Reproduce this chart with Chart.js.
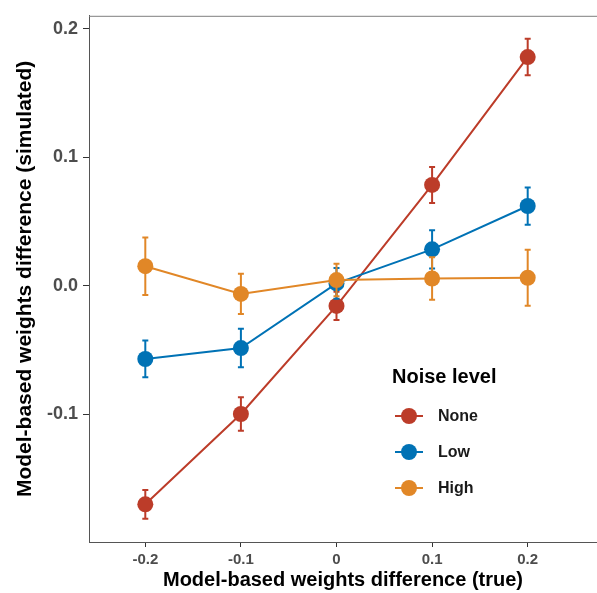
<!DOCTYPE html>
<html>
<head>
<meta charset="utf-8">
<script src="https://cdn.jsdelivr.net/npm/chart.js@4/dist/chart.umd.min.js"></script>
<style>
  html, body { margin: 0; padding: 0; background: #fff; overflow: hidden; }
  #wrap { width: 597px; height: 593px; position: relative; }
  canvas { display: block; }
</style>
</head>
<body>
<div id="wrap"><canvas id="noiseChart"></canvas></div>
<script>
// Data
const xTrue = [-0.2, -0.1, 0, 0.1, 0.2];
const seriesNames = ['None', 'Low', 'High'];
const noneMean = [-0.170, -0.0997, -0.0156, 0.0785, 0.178];
const noneErr  = [0.0112, 0.013, 0.011, 0.014, 0.0142];
const lowMean  = [-0.0569, -0.0484, 0.0019, 0.0284, 0.0621];
const lowErr   = [0.0143, 0.015, 0.012, 0.0149, 0.0145];
const highMean = [0.0153, -0.0063, 0.0045, 0.0057, 0.0063];
const highErr  = [0.0224, 0.0157, 0.0126, 0.0165, 0.0217];
const xTicks = [-0.2, -0.1, 0, 0.1, 0.2];
const yTicks = [-0.1, 0, 0.1, 0.2];

const colors = ['#BC3C29', '#0072B5', '#E18727'];
const FONT = "'Liberation Sans', Arial, sans-serif";

function toPoints(means) {
    return xTrue.map((x, i) => ({ x: x, y: means[i] }));
}

function makeSet(label, means, errs, color, order) {
    return {
        label: label,
        data: toPoints(means),
        errors: errs,
        borderColor: color,
        backgroundColor: color,
        borderWidth: 2,
        pointRadius: 8,
        pointHoverRadius: 8,
        pointBorderWidth: 0,
        tension: 0,
        order: order
    };
}

// Error bars drawn just before each dataset, so layering follows dataset order
const errorBars = {
    id: 'errorBars',
    beforeDatasetDraw(chart, args) {
        const ds = chart.data.datasets[args.index];
        const xs = chart.scales.x, ys = chart.scales.y;
        const c = chart.ctx;
        c.save();
        c.strokeStyle = ds.borderColor;
        c.lineWidth = 2;
        ds.data.forEach((p, i) => {
            const px = xs.getPixelForValue(p.x);
            const top = ys.getPixelForValue(p.y + ds.errors[i]);
            const bot = ys.getPixelForValue(p.y - ds.errors[i]);
            c.beginPath();
            c.moveTo(px, top); c.lineTo(px, bot);
            c.moveTo(px - 3, top); c.lineTo(px + 3, top);
            c.moveTo(px - 3, bot); c.lineTo(px + 3, bot);
            c.stroke();
        });
        c.restore();
    }
};

// Panel border (top) and custom legend
const panelAndLegend = {
    id: 'panelAndLegend',
    afterDraw(chart) {
        const a = chart.chartArea;
        const c = chart.ctx;
        c.save();
        c.strokeStyle = '#7f7f7f';
        c.lineWidth = 1;
        c.beginPath();
        c.moveTo(a.left, a.top + 0.5);
        c.lineTo(a.right, a.top + 0.5);
        c.stroke();

        // legend
        c.fillStyle = '#000';
        c.textBaseline = 'middle';
        c.font = 'bold 20px ' + FONT;
        c.fillText('Noise level', 392, 377);
        const rows = [416, 452, 488];
        c.font = 'bold 16px ' + FONT;
        seriesNames.forEach((name, i) => {
            const y = rows[i];
            c.strokeStyle = colors[i];
            c.lineWidth = 2;
            c.beginPath();
            c.moveTo(395, y); c.lineTo(423, y);
            c.stroke();
            c.fillStyle = colors[i];
            c.beginPath();
            c.arc(409, y, 8, 0, Math.PI * 2);
            c.fill();
            c.fillStyle = '#1a1a1a';
            c.fillText(name, 438, y + 1);
        });
        c.restore();
    }
};

const ctx = document.getElementById('noiseChart').getContext('2d');

new Chart(ctx, {
    type: 'line',
    data: {
        datasets: [
            makeSet('None', noneMean, noneErr, colors[0], 3),
            makeSet('Low', lowMean, lowErr, colors[1], 2),
            makeSet('High', highMean, highErr, colors[2], 1)
        ]
    },
    options: {
        responsive: true,
        maintainAspectRatio: false,
        animation: false,
        layout: { autoPadding: false, padding: { top: 12, right: 0, left: 0, bottom: 0 } },
        plugins: {
            legend: { display: false },
            tooltip: { enabled: false }
        },
        scales: {
            x: {
                type: 'linear',
                min: -0.2589,
                max: 0.2725,
                afterBuildTicks(scale) { scale.ticks = xTicks.map(v => ({ value: v })); },
                afterFit(scale) { scale.height = 51; },
                grid: { drawOnChartArea: false, drawTicks: true, tickLength: 5, color: '#333', lineWidth: 1 },
                border: { display: true, color: '#555', width: 1 },
                ticks: {
                    color: '#4d4d4d',
                    font: { family: FONT, size: 15, weight: 'bold' },
                    padding: 4,
                    maxRotation: 0,
                    callback: v => (v === 0 ? '0' : v.toFixed(1))
                },
                title: {
                    display: true,
                    text: 'Model-based weights difference (true)',
                    color: '#000',
                    font: { family: FONT, size: 20, weight: 'bold' },
                    padding: { top: 0, bottom: 1 }
                }
            },
            y: {
                type: 'linear',
                min: -0.1993,
                max: 0.2101,
                afterBuildTicks(scale) { scale.ticks = yTicks.map(v => ({ value: v })); },
                afterFit(scale) { scale.width = 89; },
                grid: { drawOnChartArea: false, drawTicks: true, tickLength: 6, color: '#333', lineWidth: 1 },
                border: { display: true, color: '#555', width: 1 },
                ticks: {
                    color: '#4d4d4d',
                    font: { family: FONT, size: 18, weight: 'bold' },
                    padding: 5,
                    callback: v => v.toFixed(1)
                },
                title: {
                    display: true,
                    text: 'Model-based weights difference (simulated)',
                    color: '#000',
                    font: { family: FONT, size: 21, weight: 'bold' },
                    padding: { top: 13, bottom: 0 }
                }
            }
        }
    },
    plugins: [errorBars, panelAndLegend]
});
</script>
</body>
</html>
